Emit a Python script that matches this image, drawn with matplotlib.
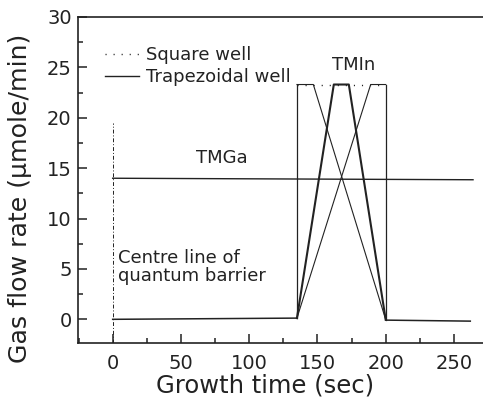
import matplotlib
matplotlib.use("Agg")
import matplotlib.pyplot as plt
from matplotlib.lines import Line2D
from matplotlib.ticker import MultipleLocator

plt.rcParams['font.family'] = ['DejaVu Sans']

# ---- data ----
tmga_t = [0, 264]
tmga_v = [14.0, 13.85]

base_left_t = [0, 135]
base_left_v = [0.0, 0.12]
base_right_t = [200, 262]
base_right_v = [-0.08, -0.18]

square_side_t = [135, 135, 200, 200]
square_side_v = [0.12, 23.3, 23.3, -0.02]
square_top_t = [135, 200]
square_top_v = [23.3, 23.3]

trap_t = [135, 162, 173, 200]
trap_v = [0.12, 23.3, 23.3, -0.02]

ramp_up_t = [135, 189, 200]
ramp_up_v = [0.12, 23.3, 23.3]

ramp_down_t = [135, 147, 200]
ramp_down_v = [23.3, 23.3, -0.02]

centre_t = [0, 0]
centre_v = [-2.35, 19.5]

xlim = (-25.4, 271.3)
ylim = (-2.35, 30)
xticks = [0, 50, 100, 150, 200, 250]
yticks = [0, 5, 10, 15, 20, 25, 30]

C = '#222222'

fig = plt.figure(figsize=(4.83, 4.03), dpi=100)
ax = fig.add_axes([78/483, 60/403, 1 - 78/483, (343-17)/403])

ax.plot(tmga_t, tmga_v, color=C, lw=1.0)
ax.plot(base_left_t, base_left_v, color=C, lw=1.1)
ax.plot(base_right_t, base_right_v, color=C, lw=1.1)
ax.plot(square_side_t[:2], square_side_v[:2], color=C, lw=0.9)
ax.plot(square_side_t[2:], square_side_v[2:], color=C, lw=0.9)
ax.plot(square_top_t, square_top_v, color=C, lw=1.0, linestyle=(0, (0.8, 5)))
ax.plot(trap_t, trap_v, color=C, lw=1.5)
ax.plot(ramp_up_t, ramp_up_v, color=C, lw=0.8)
ax.plot(ramp_down_t, ramp_down_v, color=C, lw=0.8)
ax.plot(centre_t, centre_v, color=C, lw=0.7, linestyle=(0, (4, 2, 1, 2)))

ax.text(80, 16.0, 'TMGa', fontsize=13, color=C, ha='center', va='center')
ax.text(176.5, 25.2, 'TMIn', fontsize=13, color=C, ha='center', va='center')
ax.text(3.7, 5.2, 'Centre line of\nquantum barrier', fontsize=13, color=C,
        ha='left', va='center', linespacing=1.05)

handles = [Line2D([], [], color=C, lw=1.0, linestyle=(0, (0.8, 5))),
           Line2D([], [], color=C, lw=1.0)]
ax.legend(handles, ['Square well', 'Trapezoidal well'], loc='upper left',
          bbox_to_anchor=(0.067, 0.911), frameon=False, fontsize=13,
          handlelength=1.85, handletextpad=0.4, labelspacing=0.22,
          borderpad=0, borderaxespad=0, labelcolor=C)

ax.set_xlim(*xlim)
ax.set_ylim(*ylim)
ax.set_xticks(xticks)
ax.set_yticks(yticks)
ax.xaxis.set_minor_locator(MultipleLocator(25))
ax.yaxis.set_minor_locator(MultipleLocator(2.5))
ax.tick_params(which='both', direction='in', colors=C, width=1.1, labelsize=14)
ax.tick_params(which='major', length=6.5)
ax.tick_params(which='minor', length=3.8)
ax.tick_params(axis='x', which='both', pad=8, top=False)
ax.tick_params(axis='y', which='both', pad=4.5, right=False)

for s in ['left', 'bottom', 'top']:
    ax.spines[s].set_linewidth(1.2)
    ax.spines[s].set_color(C)
ax.spines['right'].set_visible(False)

ax.set_xlabel('Growth time (sec)', fontsize=17.5, color=C)
ax.set_ylabel('Gas flow rate (\u00b5mole/min)', fontsize=18.2, color=C)
ax.xaxis.set_label_coords((265 - 78) / 405, -(385 - 343) / 326)
ax.xaxis.label.set_va('center')
ax.yaxis.set_label_coords(-(78 - 20) / 405, (343 - 198) / 326)
ax.yaxis.label.set_va('center')

fig.savefig('out.png', dpi=100)
